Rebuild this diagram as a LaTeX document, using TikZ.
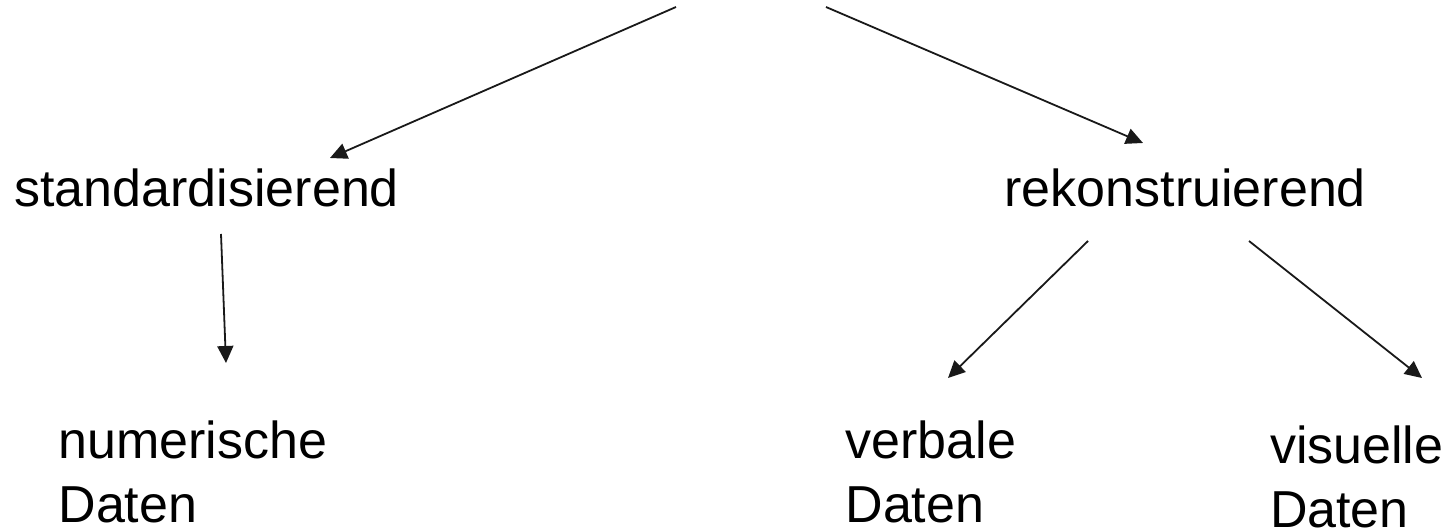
\documentclass[tikz,border=0pt]{standalone}
\usepackage{fontspec}
\setmainfont{Liberation Sans}
\usetikzlibrary{arrows.meta}
\tikzset{
  lbl/.style={anchor=base west, inner sep=0pt, outer sep=0pt, align=left, font=\fontsize{52}{64}\selectfont},
  arr/.style={-{Triangle[length=17pt,width=16pt]}, line width=1.8pt, black!90}
}
\begin{document}
\begin{tikzpicture}[x=1pt,y=-1pt]
\useasboundingbox (0,0) rectangle (1452,529);
\node[lbl] (std) at (14.5,207) {standardisierend};
\node[lbl] (rek) at (1004.6,207) {rekonstruierend};
\node[lbl] (num) at (58.5,522) {numerische\\Daten};
\node[lbl] (verb) at (845.5,522) {verbale\\Daten};
\node[lbl] (vis) at (1270,527) {visuelle\\Daten};
\coordinate (topL) at (676,7);
\coordinate (topR) at (826,7);
\coordinate (stdIn) at (330,158);
\coordinate (rekIn) at (1143,143);
\coordinate (stdOut) at (221,234);
\coordinate (numIn) at (226,363);
\coordinate (rekOutL) at (1088,241);
\coordinate (verbIn) at (948,378);
\coordinate (rekOutR) at (1249,241);
\coordinate (visIn) at (1422,378);
\draw[arr] (topL) -- (stdIn);
\draw[arr] (topR) -- (rekIn);
\draw[arr] (stdOut) -- (numIn);
\draw[arr] (rekOutL) -- (verbIn);
\draw[arr] (rekOutR) -- (visIn);
\end{tikzpicture}
\end{document}
